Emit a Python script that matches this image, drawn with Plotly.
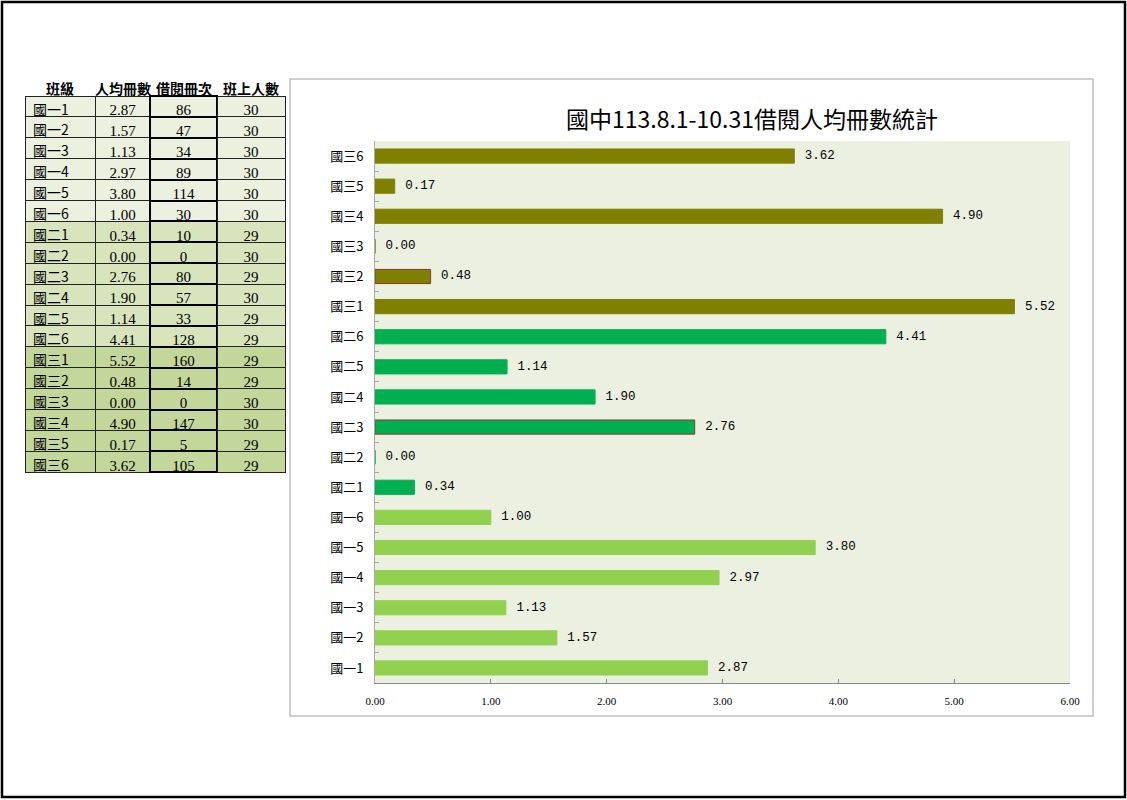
import plotly.graph_objects as go

# ---- data ----
classes = ["國一1", "國一2", "國一3", "國一4", "國一5", "國一6",
           "國二1", "國二2", "國二3", "國二4", "國二5", "國二6",
           "國三1", "國三2", "國三3", "國三4", "國三5", "國三6"]
avg_books = [2.87, 1.57, 1.13, 2.97, 3.80, 1.00,
             0.34, 0.00, 2.76, 1.90, 1.14, 4.41,
             5.52, 0.48, 0.00, 4.90, 0.17, 3.62]
borrow_count = [86, 47, 34, 89, 114, 30,
                10, 0, 80, 57, 33, 128,
                160, 14, 0, 147, 5, 105]
class_size = [30, 30, 30, 30, 30, 30,
              29, 30, 29, 30, 29, 29,
              29, 29, 30, 30, 29, 29]
headers = ["班級", "人均冊數", "借閱冊次", "班上人數"]
x_ticks = [0, 1, 2, 3, 4, 5, 6]
title_text = "國中113.8.1-10.31借閱人均冊數統計"

# ---- styling ----
W, H = 1127, 800
grade_bar_color = {"國一": "#92D050", "國二": "#00B050", "國三": "#808000"}
grade_row_color = {"國一": "#EBF1DE", "國二": "#D8E4BC", "國三": "#C4D79B"}
bar_colors = [grade_bar_color[c[:2]] for c in classes]
bar_line = [grade_bar_color[c[:2]] for c in classes]
bar_line[classes.index("國二3")] = "#8B3A2A"
bar_line[classes.index("國三2")] = "#8B3A2A"
row_colors = [grade_row_color[c[:2]] for c in classes]

col_px = [70, 55, 67, 68]
table_left = 25

def px_x(x):
    return x / W

def px_y(y):
    return 1 - y / H

fig = go.Figure()

# table (body)
fig.add_trace(go.Table(
    domain=dict(x=[px_x(table_left), px_x(table_left + sum(col_px))], y=[px_y(478), px_y(80)]),
    columnwidth=col_px,
    header=dict(values=[], height=0, fill=dict(color="rgba(0,0,0,0)"),
                line=dict(width=0, color="rgba(0,0,0,0)")),
    cells=dict(
        values=[classes,
                [f"{v:.2f}" for v in avg_books],
                borrow_count,
                class_size],
        fill_color=[row_colors] * 4,
        line=dict(color=["#222222", "#222222", "#000000", "#222222"], width=[1, 1, 2, 1]),
        align=["left", "center", "center", "center"],
        height=20.9,
        font=dict(family=["Noto Sans CJK TC", "Liberation Serif", "Liberation Serif", "Liberation Serif"],
                  size=[14, 15, 15, 15], color="black"),
    ),
))

# bar chart
fig.add_trace(go.Bar(
    x=avg_books,
    y=classes,
    orientation="h",
    marker=dict(color=bar_colors, line=dict(color=bar_line, width=1)),
    width=0.47,
    text=[f" {v:.2f}" for v in avg_books],
    textposition="outside",
    cliponaxis=False,
    textfont=dict(family="Liberation Mono", size=15, color="black"),
    hoverinfo="skip",
))

# header annotations positioned over table columns
annotations = []
left = table_left
for h, w in zip(headers, col_px):
    annotations.append(dict(
        text=f"<b>{h}</b>", x=px_x(left + w / 2), y=px_y(88), xref="paper", yref="paper",
        xanchor="center", yanchor="middle", showarrow=False,
        font=dict(family="Noto Sans CJK TC", size=14, color="black"),
    ))
    left += w
annotations.append(dict(
    text=title_text, x=px_x(752), y=px_y(118), xref="paper", yref="paper",
    xanchor="center", yanchor="middle", showarrow=False,
    font=dict(family="Noto Sans CJK TC", size=23, color="black"),
))

fig.update_layout(
    width=W, height=H,
    margin=dict(l=0, r=0, t=0, b=0, autoexpand=False),
    paper_bgcolor="white",
    plot_bgcolor="#EBF0E0",
    showlegend=False,
    xaxis=dict(
        domain=[px_x(375), px_x(1070)],
        range=[0, 6],
        tickvals=x_ticks,
        ticktext=[f"{v:.2f}" for v in x_ticks],
        showgrid=False, zeroline=False,
        showline=True, linecolor="#888888", linewidth=1,
        ticks="inside", ticklen=4, tickcolor="#888888",
        tickfont=dict(family="Liberation Serif", size=11, color="black"),
        ticklabelstandoff=8,
        automargin=False,
        anchor="y",
    ),
    yaxis=dict(
        domain=[px_y(683), px_y(141)],
        type="category",
        categoryorder="array", categoryarray=classes,
        range=[-0.5, len(classes) - 0.5],
        showgrid=False, zeroline=False,
        showline=True, linecolor="#AAAAAA", linewidth=1,
        ticks="inside", ticklen=4, tickcolor="#AAAAAA", tickson="boundaries",
        tickfont=dict(family="Noto Sans CJK TC", size=13, color="black"),
        ticklabelstandoff=8,
        automargin=False,
        anchor="x",
    ),
    annotations=annotations,
    shapes=[
        dict(type="rect", xref="paper", yref="paper",
             x0=px_x(2), x1=px_x(1125), y0=px_y(797), y1=px_y(2),
             line=dict(color="black", width=2.5), fillcolor="rgba(0,0,0,0)", layer="below"),
        dict(type="rect", xref="paper", yref="paper",
             x0=px_x(290), x1=px_x(1093), y0=px_y(716), y1=px_y(79),
             line=dict(color="#C0C0C0", width=1.5), fillcolor="rgba(0,0,0,0)", layer="below"),
    ],
)

fig.write_html("out.html")
